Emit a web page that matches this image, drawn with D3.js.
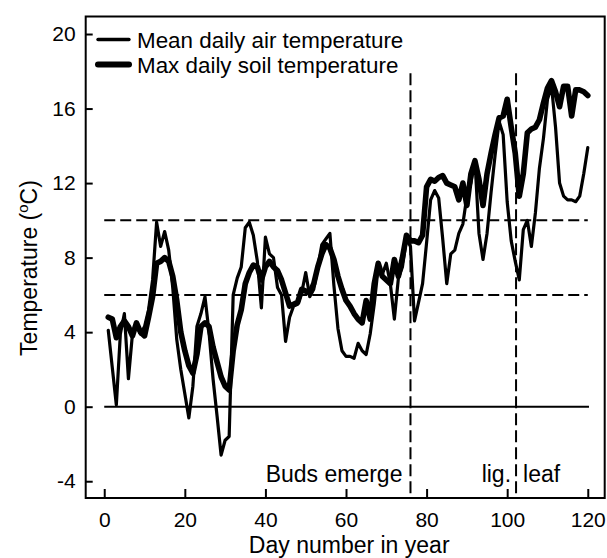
<!DOCTYPE html>
<html>
<head>
<meta charset="utf-8">
<script src="https://cdn.jsdelivr.net/npm/d3@7"></script>
<style>
  html, body { margin: 0; padding: 0; background: #fff; }
  svg { display: block; font-family: "Liberation Sans", Arial, Helvetica, sans-serif; }
</style>
</head>
<body>
<svg id="chart" width="607" height="558"></svg>
<script>
// ---- data ----
const days = d3.range(1, 121);
const airTemp = [
  4.1, 2.1, 0.1, 3.9, 5.0, 1.5, 3.9, 4.4, 3.9, 4.3,
  5.2, 6.8, 9.9, 8.6, 9.4, 8.4, 6.4, 3.6, 2.0, 0.7,
  -0.6, 1.1, 4.3, 5.0, 5.9, 4.0, 1.5, -0.5, -2.6, -1.8,
  -1.6, 6.0, 6.9, 7.5, 9.6, 9.9, 9.2, 7.8, 5.3, 9.1,
  8.2, 8.0, 6.4, 6.0, 3.5, 4.8, 5.4, 5.5, 6.1, 7.2,
  5.9, 6.3, 7.5, 8.7, 9.0, 9.3, 6.5, 4.2, 3.0, 2.7,
  2.7, 2.6, 3.4, 3.0, 2.8, 3.9, 5.5, 7.5, 7.1, 7.7,
  6.6, 4.7, 6.9, 7.5, 9.0, 8.6, 4.6, 5.6, 6.6, 8.8,
  11.1, 11.6, 11.2, 9.0, 6.6, 8.2, 8.4, 9.3, 9.8, 11.3,
  12.0, 13.2, 9.3, 7.9, 9.3, 11.5, 13.5, 15.3, 14.6, 11.0,
  8.9, 7.8, 6.8, 9.5, 10.0, 8.6, 10.4, 12.8, 14.4, 16.5,
  17.2, 15.0, 12.0, 11.3, 11.1, 11.1, 11.0, 11.3, 12.5, 13.9
];
const soilMax = [
  4.8, 4.7, 3.7, 4.3, 4.6, 4.3, 3.8, 4.5, 4.0, 3.8,
  4.8, 5.9, 7.7, 7.8, 8.0, 7.8, 7.0, 5.7, 4.0, 3.0,
  2.2, 1.8, 2.8, 4.3, 4.5, 4.3, 3.2, 2.4, 1.6, 1.1,
  0.9, 3.0, 4.4, 5.2, 6.6, 7.2, 7.6, 7.5, 6.8, 7.5,
  7.8, 7.5, 7.3, 6.8, 6.1, 5.4, 5.5, 5.6, 6.3, 6.2,
  6.1, 6.6, 7.5, 8.2, 8.7, 8.5, 7.9, 7.0, 6.3, 5.7,
  5.4, 5.0, 4.7, 4.5, 5.7, 4.7, 6.6, 7.7, 7.0, 6.8,
  6.6, 7.9, 7.0, 8.0, 9.2, 8.9, 8.9, 8.8, 9.2, 11.8,
  12.2, 12.1, 12.3, 12.4, 12.0, 11.9, 11.8, 11.1, 12.0, 10.8,
  12.5, 13.2, 12.2, 10.8, 12.5, 13.6, 14.6, 15.5, 15.6, 16.5,
  15.0, 13.6, 11.3, 12.5, 14.7, 14.9, 15.0, 15.4, 16.3, 17.1,
  17.5, 16.9, 16.1, 17.2, 17.2, 15.6, 17.0, 17.0, 16.9, 16.7
];
const xTicks = [0, 20, 40, 60, 80, 100, 120];
const yTicks = [-4, 0, 4, 8, 12, 16, 20];
const thresholds = [6, 10];
const events = [
  { day: 76, label: "Buds emerge" },
  { day: 102.2, label: "lig. leaf" }
];
const seriesNames = ["Mean daily air temperature", "Max daily soil temperature"];

// ---- layout ----
const svg = d3.select("#chart");
const pLeft = 85.7, pRight = 604.7, pTop = 16.5, pBottom = 498;
const x = d3.scaleLinear().domain([-4.6, 124.2]).range([pLeft, pRight]);
const y = d3.scaleLinear().domain([-4.9, 20.94]).range([pBottom, pTop]);
const FONT = 21;
const fmt = d => String(d); // plain hyphen for negatives

// threshold dashed lines
svg.selectAll("line.thr").data(thresholds).join("line")
  .attr("class", "thr")
  .attr("x1", x(0)).attr("x2", x(120))
  .attr("y1", d => y(d)).attr("y2", d => y(d))
  .attr("stroke", "#000").attr("stroke-width", 2)
  .attr("stroke-dasharray", "11,5");

// zero line
svg.append("line")
  .attr("x1", x(0)).attr("x2", x(120.3))
  .attr("y1", y(0)).attr("y2", y(0))
  .attr("stroke", "#000").attr("stroke-width", 2);

// event dashed verticals
svg.selectAll("line.evt").data(events).join("line")
  .attr("class", "evt")
  .attr("x1", d => x(d.day)).attr("x2", d => x(d.day))
  .attr("y1", y(17.9)).attr("y2", pBottom)
  .attr("stroke", "#000").attr("stroke-width", 2)
  .attr("stroke-dasharray", "12,5");

// series lines
const line = d3.line().x((d, i) => x(days[i])).y(d => y(d)).curve(d3.curveLinear);
svg.append("path").datum(soilMax)
  .attr("d", line).attr("fill", "none").attr("stroke", "#000")
  .attr("stroke-width", 5.6).attr("stroke-linejoin", "round").attr("stroke-linecap", "round");
svg.append("path").datum(airTemp)
  .attr("d", line).attr("fill", "none").attr("stroke", "#000")
  .attr("stroke-width", 3.2).attr("stroke-linejoin", "round").attr("stroke-linecap", "round");

// event labels
svg.append("text").attr("x", x(events[0].day) - 8).attr("y", 481.5)
  .attr("text-anchor", "end").attr("font-size", 23).text(events[0].label);
const ligParts = events[1].label.split(" ");
svg.append("text").attr("x", x(events[1].day) - 5).attr("y", 481.5)
  .attr("text-anchor", "end").attr("font-size", 23).text(ligParts[0]);
svg.append("text").attr("x", x(events[1].day) + 7).attr("y", 481.5)
  .attr("text-anchor", "start").attr("font-size", 23).text(ligParts[1]);

// axes
const yAxis = d3.axisLeft(y).tickValues(yTicks).tickSize(-7).tickPadding(10).tickFormat(fmt);
const gy = svg.append("g").attr("transform", `translate(${pLeft},0)`).call(yAxis);
gy.select(".domain").remove();
gy.selectAll(".tick line").attr("stroke", "#000").attr("stroke-width", 2);
gy.selectAll(".tick text").attr("font-size", FONT).attr("font-family", null).attr("fill", "#000");

const xAxis = d3.axisBottom(x).tickValues(xTicks).tickSize(-9).tickPadding(14).tickFormat(fmt);
const gx = svg.append("g").attr("transform", `translate(0,${pBottom})`).call(xAxis);
gx.select(".domain").remove();
gx.selectAll(".tick line").attr("stroke", "#000").attr("stroke-width", 2);
gx.selectAll(".tick text").attr("font-size", FONT).attr("font-family", null).attr("fill", "#000");

// frame
svg.append("rect").attr("x", pLeft).attr("y", pTop)
  .attr("width", pRight - pLeft).attr("height", pBottom - pTop)
  .attr("fill", "none").attr("stroke", "#000").attr("stroke-width", 2);

// axis titles
svg.append("text").attr("x", (pLeft + pRight) / 2 + 4).attr("y", 553)
  .attr("text-anchor", "middle").attr("font-size", 23).text("Day number in year");
const yt = svg.append("text").attr("transform", "translate(37,268) rotate(-90)")
  .attr("text-anchor", "middle").attr("font-size", 23);
yt.append("tspan").text("Temperature (");
yt.append("tspan").attr("font-size", 15).attr("dy", -9).text("o");
yt.append("tspan").attr("dy", 9).text("C)");

// legend
const legend = svg.append("g");
const legY = [39.5, 64.5];
const legW = [3.4, 6];
legend.selectAll("line").data(seriesNames).join("line")
  .attr("x1", 98).attr("x2", 129)
  .attr("y1", (d, i) => legY[i]).attr("y2", (d, i) => legY[i])
  .attr("stroke", "#000").attr("stroke-width", (d, i) => legW[i]).attr("stroke-linecap", "round");
legend.selectAll("text").data(seriesNames).join("text")
  .attr("x", 137).attr("y", (d, i) => legY[i] + 8.5)
  .attr("font-size", 22.4).text(d => d);
</script>
</body>
</html>
